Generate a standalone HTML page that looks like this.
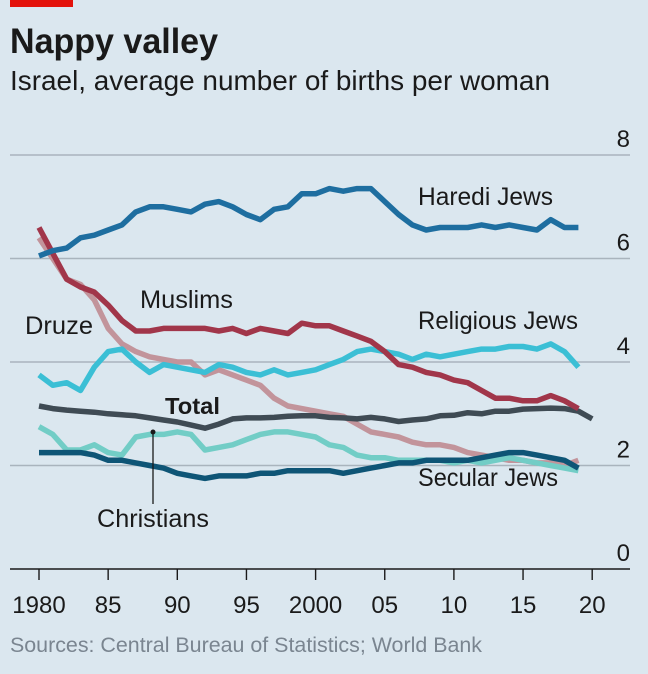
<!DOCTYPE html>
<html><head><meta charset="utf-8"><style>
html,body{margin:0;padding:0;background:#dbe7ef;}
svg{display:block;font-family:"Liberation Sans",sans-serif;}
</style></head><body>
<svg id="chart" width="648" height="674" viewBox="0 0 648 674">
<rect x="0" y="0" width="648" height="674" fill="#dbe7ef"/>
<rect x="10" y="0" width="63" height="7" fill="#e3120b"/>
<text x="10" y="53" font-size="35" font-weight="bold" fill="#1a1a1a" textLength="208" lengthAdjust="spacingAndGlyphs">Nappy valley</text>
<text x="10" y="90" font-size="28" fill="#1a1a1a" textLength="540" lengthAdjust="spacingAndGlyphs">Israel, average number of births per woman</text>
<g id="grid"></g>
<g id="lines"></g>
<g id="labels" font-size="25" fill="#1a1a1a">
<text x="418" y="205" textLength="135" lengthAdjust="spacingAndGlyphs">Haredi Jews</text>
<text x="140" y="308" textLength="93" lengthAdjust="spacingAndGlyphs">Muslims</text>
<text x="25" y="334" textLength="68" lengthAdjust="spacingAndGlyphs">Druze</text>
<text x="418" y="329" textLength="160" lengthAdjust="spacingAndGlyphs">Religious Jews</text>
<text x="165" y="414" font-weight="bold" font-size="23" textLength="55" lengthAdjust="spacingAndGlyphs">Total</text>
<text x="418" y="486" textLength="140" lengthAdjust="spacingAndGlyphs">Secular Jews</text>
<text x="97" y="527" textLength="112" lengthAdjust="spacingAndGlyphs">Christians</text>
<line x1="153" y1="432" x2="153" y2="504" stroke="#1a1a1a" stroke-width="1.3"/>
<circle cx="153" cy="432" r="2.5" fill="#1a1a1a"/>
</g>
<text x="10" y="652" font-size="21" fill="#7a8590" textLength="472" lengthAdjust="spacingAndGlyphs">Sources: Central Bureau of Statistics; World Bank</text>
</svg>
<script>
const years = [1980,1981,1982,1983,1984,1985,1986,1987,1988,1989,1990,1991,1992,1993,1994,1995,1996,1997,1998,1999,2000,2001,2002,2003,2004,2005,2006,2007,2008,2009,2010,2011,2012,2013,2014,2015,2016,2017,2018,2019];
const haredi = [6.05,6.15,6.2,6.4,6.45,6.55,6.65,6.9,7.0,7.0,6.95,6.9,7.05,7.1,7.0,6.85,6.75,6.95,7.0,7.25,7.25,7.35,7.3,7.35,7.35,7.1,6.85,6.65,6.55,6.6,6.6,6.6,6.65,6.6,6.65,6.6,6.55,6.75,6.6,6.6];
const muslims = [6.6,6.1,5.6,5.45,5.35,5.1,4.8,4.6,4.6,4.65,4.65,4.65,4.65,4.6,4.65,4.55,4.65,4.6,4.55,4.75,4.7,4.7,4.6,4.5,4.4,4.2,3.95,3.9,3.8,3.75,3.65,3.6,3.45,3.3,3.3,3.25,3.25,3.35,3.25,3.1];
const druze = [6.4,6.0,5.6,5.5,5.2,4.65,4.35,4.2,4.1,4.05,4.0,4.0,3.75,3.85,3.75,3.65,3.55,3.3,3.15,3.1,3.05,3.0,2.95,2.8,2.65,2.6,2.55,2.45,2.4,2.4,2.35,2.25,2.2,2.15,2.1,2.1,2.05,2.05,2.0,2.1];
const religious = [3.75,3.55,3.6,3.45,3.9,4.2,4.25,4.0,3.8,3.95,3.9,3.85,3.8,3.95,3.9,3.8,3.75,3.85,3.75,3.8,3.85,3.95,4.05,4.2,4.25,4.2,4.15,4.05,4.15,4.1,4.15,4.2,4.25,4.25,4.3,4.3,4.25,4.35,4.2,3.9];
const totalYears = [1980,1981,1982,1983,1984,1985,1986,1987,1988,1989,1990,1991,1992,1993,1994,1995,1996,1997,1998,1999,2000,2001,2002,2003,2004,2005,2006,2007,2008,2009,2010,2011,2012,2013,2014,2015,2016,2017,2018,2019,2020];
const total = [3.15,3.1,3.07,3.05,3.03,3.0,2.98,2.96,2.92,2.88,2.84,2.78,2.72,2.8,2.9,2.92,2.92,2.93,2.95,2.96,2.96,2.93,2.92,2.9,2.93,2.9,2.85,2.88,2.9,2.96,2.97,3.02,3.0,3.05,3.05,3.09,3.1,3.11,3.1,3.05,2.9];
const christians = [2.75,2.6,2.3,2.3,2.4,2.25,2.2,2.55,2.6,2.6,2.65,2.6,2.3,2.35,2.4,2.5,2.6,2.65,2.65,2.6,2.55,2.4,2.35,2.2,2.15,2.15,2.1,2.1,2.1,2.1,2.05,2.1,2.05,2.1,2.15,2.1,2.05,2.0,1.95,1.9];
const secular = [2.25,2.25,2.25,2.25,2.2,2.1,2.1,2.05,2.0,1.95,1.85,1.8,1.75,1.8,1.8,1.8,1.85,1.85,1.9,1.9,1.9,1.9,1.85,1.9,1.95,2.0,2.05,2.05,2.1,2.1,2.1,2.1,2.15,2.2,2.25,2.25,2.2,2.15,2.1,1.95];
const yTicks = [0,2,4,6,8];
const xTicks = [1980,1985,1990,1995,2000,2005,2010,2015,2020];
const xTickLabels = ["1980","85","90","95","2000","05","10","15","20"];

const NS = "http://www.w3.org/2000/svg";
const xS = yr => 39 + (yr - 1980) * 13.83;
const yS = v => 569 - v * 51.75;
function mk(tag, attrs, parent) {
  const el = document.createElementNS(NS, tag);
  for (const k in attrs) el.setAttribute(k, attrs[k]);
  parent.appendChild(el);
  return el;
}
const grid = document.getElementById('grid');
yTicks.forEach(v => {
  if (v > 0) {
    const gl = mk('line', {x1: 10, x2: 630, y1: yS(v), y2: yS(v), stroke: '#a9b4bd', 'stroke-width': 1.4}, grid);
    
    
  }
  const t = mk('text', {x: 630, y: yS(v) - 8, 'text-anchor': 'end', 'font-size': 24, fill: '#1a1a1a'}, grid);
  t.textContent = v;
  
  
});
const axis = mk('line', {x1: 10, x2: 630, y1: yS(0), y2: yS(0), stroke: '#1a1a1a', 'stroke-width': 1.6}, grid);


xTicks.forEach((yr, i) => {
  const tk = mk('line', {x1: xS(yr), x2: xS(yr), y1: yS(0), y2: yS(0) + 11, stroke: '#1a1a1a', 'stroke-width': 1.4}, grid);
  
  
  const t = mk('text', {x: xS(yr), y: 613, 'text-anchor': 'middle', 'font-size': 24, fill: '#1a1a1a'}, grid);
  t.textContent = xTickLabels[i];
  
  
});
const lines = document.getElementById('lines');
function series(xs, vals, color, name) {
  const d = vals.map((v, i) => (i ? 'L' : 'M') + xS(xs[i]).toFixed(1) + ',' + yS(v).toFixed(1)).join(' ');
  const p = mk('path', {d: d, fill: 'none', stroke: color, 'stroke-width': 5.5, 'stroke-linejoin': 'round'}, lines);
  
  
}
series(years, druze, '#c2949b', 'line-druze');
series(years, christians, '#72cdc6', 'line-christians');
series(years, secular, '#0e5576', 'line-secular-jews');
series(totalYears, total, '#3f4b54', 'line-total');
series(years, religious, '#3bbfd5', 'line-religious-jews');
series(years, muslims, '#a1364a', 'line-muslims');
series(years, haredi, '#1e6ea0', 'line-haredi-jews');
</script>
</body></html>
